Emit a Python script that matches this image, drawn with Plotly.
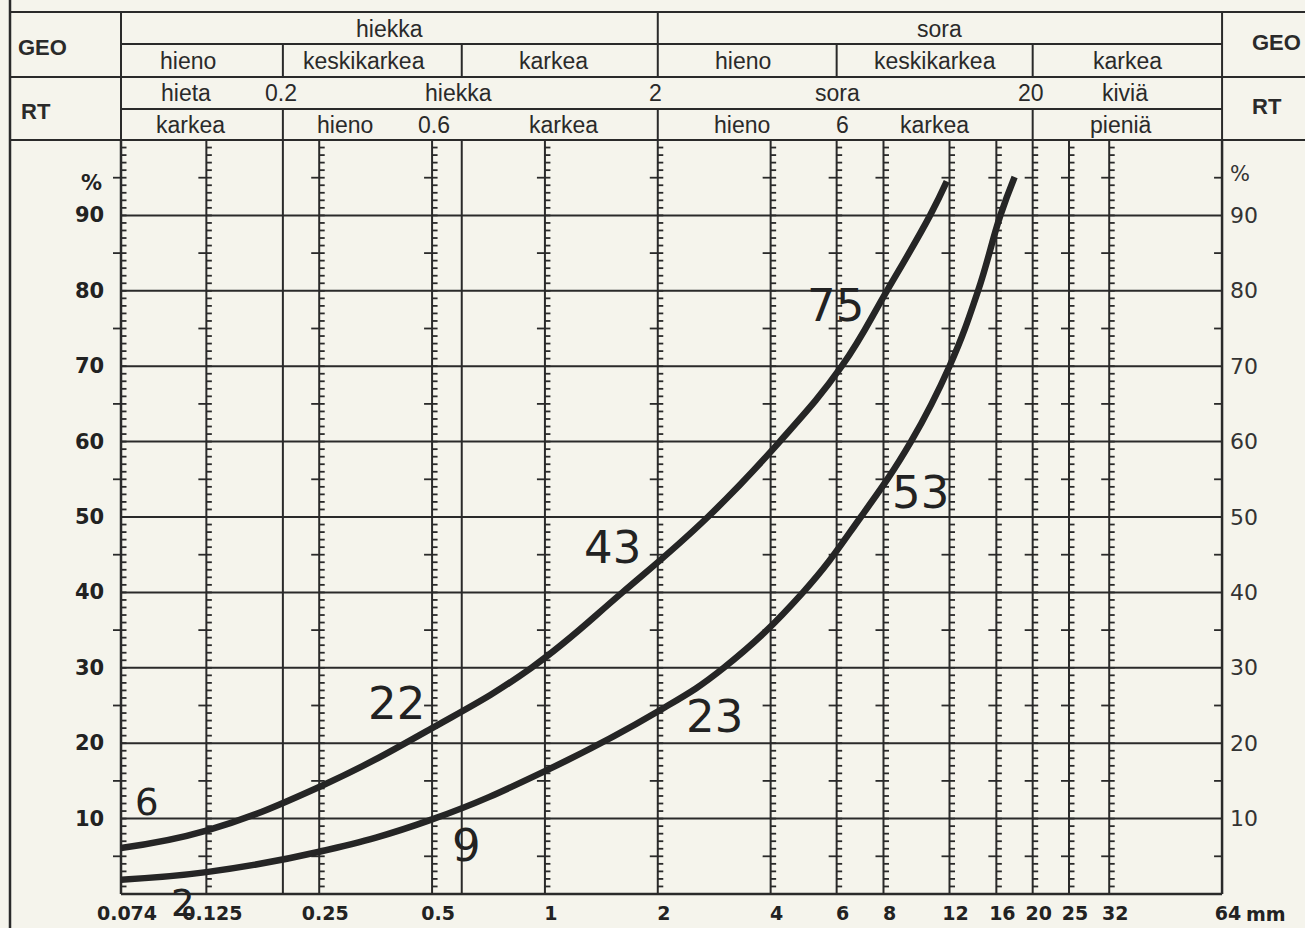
import numpy as np
import plotly.graph_objects as go

# ------------------------------------------------------------------ data
size_ticks = [0.074, 0.125, 0.25, 0.5, 1, 2, 4, 6, 8, 12, 16, 20, 25, 32, 64]
size_tick_text = ["0.074", "0.125", "0.25", "0.5", "1", "2", "4", "6", "8",
                  "12", "16", "20", "25", "32", "64"]
ruler_sizes = [0.074, 0.125, 0.25, 0.5, 1, 2, 4, 6, 8, 12, 16, 20, 25, 32]
plain_sizes = [0.2, 0.6]
pct_grid = [10, 20, 30, 40, 50, 60, 70, 80, 90]
pct_text = ["10", "20", "30", "40", "50", "60", "70", "80", "90"]

curve_a_size = [0.074, 0.125, 0.25, 0.5, 0.92, 1.61, 2.72, 4.23, 6.19, 8.17, 10.65, 11.8]
curve_a_pass = [6.1, 8.4, 14.2, 22.0, 30.0, 40.0, 50.0, 60.0, 70.0, 80.0, 90.0, 94.5]
curve_b_size = [0.074, 0.125, 0.25, 0.5, 1, 2, 3.0, 4.88, 6.96, 9.47, 12.0, 14.3, 16.4, 17.9]
curve_b_pass = [1.9, 2.9, 5.6, 9.9, 16.3, 24.2, 30.0, 40.0, 50.0, 60.0, 70.0, 80.0, 90.0, 95.1]
curve_a_labels = ["6", "22", "43", "75"]
curve_b_labels = ["2", "9", "23", "53"]

geo_main = [("hiekka", 0.074, 2), ("sora", 2, 64)]
geo_sub = [("hieno", 0.074, 0.2), ("keskikarkea", 0.2, 0.6), ("karkea", 0.6, 2),
           ("hieno", 2, 6), ("keskikarkea", 6, 20), ("karkea", 20, 64)]
rt_main = [("hieta", 0.074, 0.2), ("hiekka", 0.2, 2), ("sora", 2, 20), ("kiviä", 20, 64)]
rt_main_bounds = [("0.2", 0.2), ("2", 2), ("20", 20)]
rt_sub = [("karkea", 0.074, 0.2), ("hieno", 0.2, 0.6), ("karkea", 0.6, 2),
          ("hieno", 2, 6), ("karkea", 6, 20), ("pieniä", 20, 64)]
rt_sub_bounds = [("0.6", 0.6), ("6", 6)]

# ------------------------------------------------------------------ geometry
W, H = 1305, 928
PL, PR, PT, PB = 96, 1232, 138, 900          # plot area in page px
X0PX, DEC = 121, 374.9                       # px of 0.074 mm, px per decade
Y0PX, YU = 894, 7.54                         # px of 0 %, px per %
XMIN, XMAX = 0.074, 64

def size_px(s):
    return X0PX + DEC * np.log10(s / XMIN)

def pxx(px):
    return (px - PL) / (PR - PL)

def pxy(py):
    return (PB - py) / (PB - PT)

xrange = [np.log10(XMIN) - (X0PX - PL) / DEC, np.log10(XMAX) + (PR - size_px(XMAX)) / DEC]
yrange = [-(PB - Y0PX) / YU, (Y0PX - PT) / YU]

INK = "#2a2a2a"
BG = "#f5f4ec"
NUMFONT = "DejaVu Sans"
TXTFONT = "Liberation Sans"

fig = go.Figure()

def add_segments(xs, ys, width, color=INK):
    fig.add_trace(go.Scatter(x=xs, y=ys, mode="lines", hoverinfo="skip",
                             line=dict(color=color, width=width), showlegend=False))

# horizontal grid
gx, gy = [], []
for p in pct_grid:
    gx += [XMIN, XMAX, None]
    gy += [p, p, None]
add_segments(gx, gy, 2)

# vertical lines
vx, vy = [], []
for s in ruler_sizes[1:] + plain_sizes:
    vx += [s, s, None]
    vy += [0, 100, None]
add_segments(vx, vy, 2)

# frame: left, right, bottom
add_segments([XMIN, XMIN, None, XMAX, XMAX, None, XMIN, XMAX],
             [0, 100, None, 0, 100, None, 0, 0], 2.5)

# ruler small ticks (every 1 %) to the right
fr = 10 ** (5.5 / DEC)
tx, ty = [], []
for s in ruler_sizes:
    for p in range(1, 100):
        tx += [s, s * fr, None]
        ty += [p, p, None]
add_segments(tx, ty, 1.8)

# longer ticks at 5 % steps to the left
fl = 10 ** (-8 / DEC)
lx, ly = [], []
for s in ruler_sizes + [XMAX]:
    for p in range(5, 100, 10):
        lx += [s * fl, s, None]
        ly += [p, p, None]
add_segments(lx, ly, 1.8)

# curves
for xs, ys in [(curve_a_size, curve_a_pass), (curve_b_size, curve_b_pass)]:
    fig.add_trace(go.Scatter(x=xs, y=ys, mode="lines", hoverinfo="skip", showlegend=False,
                             line=dict(color="#252525", width=6.5, shape="spline", smoothing=1.2)))

ann = []
# curve labels (placement in size / percent units)
label_place_a = [(0.0868, 12.2, 0, 37), (0.403, 25.2, 0, 45), (1.51, 45.9, 0, 45), (5.94, 78.1, 0, 45)]
label_place_b = [(0.108, 0.0, -9, 37), (0.619, 6.4, 0, 45), (2.84, 23.5, 0, 45), (10.07, 53.3, 0, 45)]
for txts, places in [(curve_a_labels, label_place_a), (curve_b_labels, label_place_b)]:
    for t, (sx, py, ysh, fs) in zip(txts, places):
        ann.append(dict(x=np.log10(sx), y=py, xref="x", yref="y", text=t, showarrow=False,
                        xanchor="center", yanchor="middle",
                        yshift=ysh, font=dict(family=NUMFONT, size=fs, color="#222")))

# left / right percent labels
for p, t in zip(pct_grid, pct_text):
    ann.append(dict(x=pxx(106), y=p, xref="paper", yref="y", text=t, showarrow=False,
                    xanchor="right", yanchor="middle",
                    font=dict(family=NUMFONT, size=21, color="#222", weight="bold")))
    ann.append(dict(x=pxx(1228), y=p, xref="paper", yref="y", text=t, showarrow=False,
                    xanchor="left", yanchor="middle", font=dict(family=NUMFONT, size=22, color="#333")))
ann.append(dict(x=pxx(104), y=94.3, xref="paper", yref="y", text="%", showarrow=False,
                xanchor="right", yanchor="middle",
                font=dict(family=NUMFONT, size=21, color="#222", weight="bold")))
ann.append(dict(x=pxx(1228), y=95.5, xref="paper", yref="y", text="%", showarrow=False,
                xanchor="left", yanchor="middle", font=dict(family=NUMFONT, size=21, color="#333")))
ann.append(dict(x=pxx(1244), y=pxy(914), xref="paper", yref="paper", text="mm", showarrow=False,
                xanchor="left", yanchor="middle",
                font=dict(family=NUMFONT, size=19, color="#222", weight="bold")))

# ------------------------------------------------------------------ header table
shapes = []
def hline(x0, x1, y, w=2):
    shapes.append(dict(type="line", xref="paper", yref="paper", x0=pxx(x0), x1=pxx(x1),
                       y0=pxy(y), y1=pxy(y), line=dict(color=INK, width=w)))
def vline(x, y0, y1, w=2):
    shapes.append(dict(type="line", xref="paper", yref="paper", x0=pxx(x), x1=pxx(x),
                       y0=pxy(y0), y1=pxy(y1), line=dict(color=INK, width=w)))

R_TOP, R1, R2, R3, R_BOT = 12, 44, 77, 109, 140
xl, xr = size_px(XMIN), size_px(XMAX)
hline(10, W, R_TOP)
hline(xl, xr, R1)
hline(10, W, R2)
hline(xl, xr, R3)
hline(10, W, R_BOT)
vline(10, 0, H, 2.5)
vline(xl, R_TOP, R_BOT)
vline(xr, R_TOP, R_BOT)
vline(size_px(2), R_TOP, R2)
for s in [0.2, 0.6, 6, 20]:
    vline(size_px(s), R1, R2)
for s in [0.2, 2, 20]:
    vline(size_px(s), R3, R_BOT)

def htext(t, px, py, size=23, bold=False, xshift=0):
    f = dict(family=TXTFONT, size=size, color="#2a2a2a")
    if bold:
        f["weight"] = "bold"
    ann.append(dict(x=pxx(px), y=pxy(py), xref="paper", yref="paper", text=t, showarrow=False,
                    xanchor="center", yanchor="middle", xshift=xshift, font=f))

def mid(a, b):
    return (size_px(a) + size_px(b)) / 2

for t, a, b in geo_main:
    htext(t, mid(a, b), 29)
shift_geo_sub = [-14, -8, -6, -4, 0, 0]
for (t, a, b), sh in zip(geo_sub, shift_geo_sub):
    htext(t, mid(a, b), 61, xshift=sh)
shift_rt_main = [-16, -12, -8, -2]
for (t, a, b), sh in zip(rt_main, shift_rt_main):
    htext(t, mid(a, b), 93, xshift=sh)
for t, s in rt_main_bounds:
    htext(t, size_px(s), 93, xshift=-2)
shift_rt_sub = [-11, -27, 4, -5, 0, -6]
for (t, a, b), sh in zip(rt_sub, shift_rt_sub):
    htext(t, mid(a, b), 125, xshift=sh)
htext(rt_sub_bounds[0][0], size_px(rt_sub_bounds[0][1]), 125, xshift=-28)
htext(rt_sub_bounds[1][0], size_px(rt_sub_bounds[1][1]), 125, xshift=6)

htext("GEO", 42, 47, size=22, bold=True)
htext("RT", 36, 112, size=22, bold=True)
htext("GEO", 1276, 42, size=22, bold=True)
htext("RT", 1267, 106, size=22, bold=True)

fig.update_layout(
    width=W, height=H,
    margin=dict(l=PL, r=W - PR, t=PT, b=H - PB, pad=0, autoexpand=False),
    paper_bgcolor=BG, plot_bgcolor=BG,
    showlegend=False,
    xaxis=dict(type="log", range=xrange, tickmode="array", tickvals=size_ticks,
               ticktext=size_tick_text, ticks="", ticklen=0, showgrid=False, zeroline=False,
               showline=False, ticklabelshift=6, ticklabelstandoff=0, automargin=False,
               tickfont=dict(family=NUMFONT, size=19, color="#222", weight="bold"),
               fixedrange=True),
    yaxis=dict(range=yrange, showticklabels=False, ticks="", showgrid=False,
               zeroline=False, showline=False, fixedrange=True, automargin=False),
    shapes=shapes,
    annotations=ann,
)

fig.write_html(
    "out.html",
    config={"displayModeBar": False, "staticPlot": True},
    post_script="document.body.style.margin='0';document.body.style.overflow='hidden';"
                "document.body.style.background='%s';" % BG,
)
